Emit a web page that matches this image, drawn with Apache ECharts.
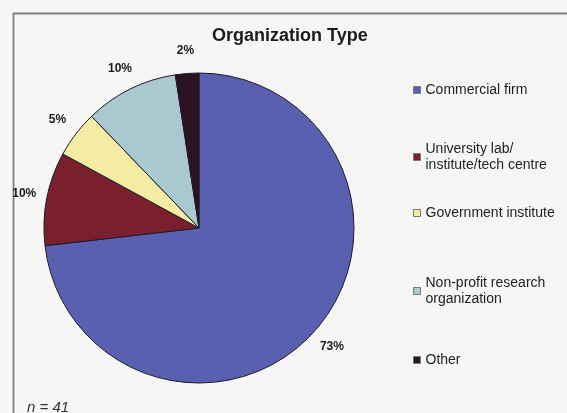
<!DOCTYPE html>
<html>
<head>
<meta charset="utf-8">
<title>Organization Type</title>
<script src="https://cdn.jsdelivr.net/npm/echarts@6/dist/echarts.min.js"></script>
<style>
  html, body { margin: 0; padding: 0; background: #f6f6f4; }
  #chart { width: 567px; height: 413px; }
</style>
</head>
<body>
<div id="chart"></div>
<script>
// Respondents by organization type (n = 41)
const categories = [
  'Commercial firm',
  'University lab/ institute/tech centre',
  'Government institute',
  'Non-profit research organization',
  'Other'
];
const counts = [30, 4, 2, 4, 1];
const sliceColors = ['#5a60b0', '#7a1f2c', '#f4eca2', '#a9c8d0', '#2c1220'];
// Legend text, wrapped the way it is shown
const legendLines = {
  'Commercial firm': 'Commercial firm',
  'University lab/ institute/tech centre': 'University lab/\ninstitute/tech centre',
  'Government institute': 'Government institute',
  'Non-profit research organization': 'Non-profit research\norganization',
  'Other': 'Other'
};
const legendTops = [82, 133, 205, 267, 352];
const sampleNote = 'n = 41';

const FONT = "'Liberation Sans', Arial, sans-serif";
const pieData = categories.map((name, i) => ({
  name: name,
  value: counts[i],
  itemStyle: { color: sliceColors[i] }
}));

const legends = categories.map((name, i) => {
  const twoLines = legendLines[name].indexOf('\n') >= 0;
  return {
    data: [name],
    orient: 'vertical',
    left: 413,
    top: legendTops[i],
    padding: 0,
    icon: 'rect',
    itemWidth: 7,
    itemHeight: 7,
    itemStyle: { borderColor: '#7a7a7a', borderWidth: 1 },
    selectedMode: false,
    formatter: n => legendLines[n],
    textStyle: {
      fontFamily: FONT,
      fontSize: 14,
      lineHeight: 16,
      color: '#1e1e1e',
      padding: twoLines ? [16, 0, 0, 0] : 0
    }
  };
});

const chart = echarts.init(document.getElementById('chart'), null, { renderer: 'canvas' });
chart.setOption({
  backgroundColor: '#f6f6f4',
  animation: false,
  title: {
    text: 'Organization Type',
    left: 212,
    top: 27,
    padding: 0,
    textStyle: { fontFamily: FONT, fontSize: 18, fontWeight: 'bold', color: '#1a1a1a' }
  },
  legend: legends,
  graphic: [
    {
      type: 'rect',
      shape: { x: 13.5, y: 13.5, width: 600, height: 450 },
      style: { fill: 'transparent', stroke: '#808080', lineWidth: 1.8 },
      silent: true,
      z: 0
    },
    {
      type: 'text',
      left: 27,
      top: 400,
      style: {
        text: sampleNote,
        font: 'italic 15px ' + FONT,
        fill: '#333'
      },
      silent: true
    }
  ],
  series: [
    {
      // the slices
      type: 'pie',
      center: [199, 228],
      radius: 155,
      startAngle: 90,
      clockwise: true,
      label: { show: false },
      labelLine: { show: false },
      itemStyle: { borderColor: '#1c1c2c', borderWidth: 1 },
      emphasis: { disabled: true },
      data: pieData
    },
    {
      // transparent ring carrying the percentage labels just outside the slices
      type: 'pie',
      center: [199, 228],
      radius: [155, 195],
      startAngle: 90,
      clockwise: true,
      silent: true,
      percentPrecision: 0,
      itemStyle: { color: 'rgba(0,0,0,0)', borderWidth: 0 },
      emphasis: { disabled: true },
      label: {
        show: true,
        position: 'inside',
        formatter: '{d}%',
        fontFamily: FONT,
        fontSize: 12,
        fontWeight: 'bold',
        color: '#1a1a1a'
      },
      labelLine: { show: false },
      data: categories.map((name, i) => ({ name: name, value: counts[i] }))
    }
  ]
});
</script>
</body>
</html>
